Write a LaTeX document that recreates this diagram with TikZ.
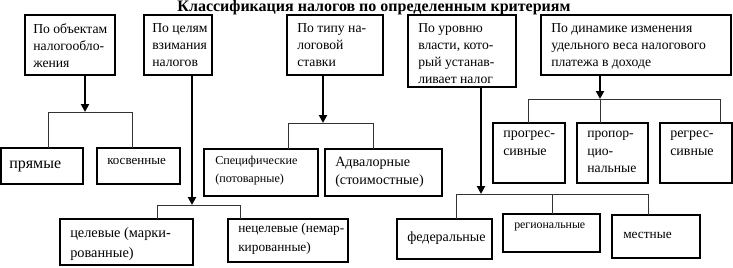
\documentclass[tikz,border=0pt]{standalone}
\usepackage{fontspec}
\setmainfont{Liberation Serif}
\usetikzlibrary{arrows.meta}
\newcommand\fsz[2]{\fontsize{#1}{#2}\selectfont}
\newcommand\mkbox[5]{\node[boxst, minimum width={(#4-#2)*0.75pt}, minimum height={(#5-#3)*0.75pt}] (#1) at (#2,#3) {};}
\begin{document}
\begin{tikzpicture}[x=0.75pt,y=-0.75pt,
  boxst/.style={draw, line width=0.85pt, inner sep=0pt, outer sep=0pt, anchor=north west},
  txt/.style={anchor=north west, inner sep=0pt, align=left, font=\fsz{10.25}{12.9}},
  parr/.style={line width=1.5pt, -{Triangle[length=6pt,width=6pt]}},
  bus/.style={line width=0.6pt, draw=black!80}]
\useasboundingbox (0,0) rectangle (733,268);
\node[font=\bfseries\fsz{12}{13}] (title) at (374,8) {Классификация налогов по определенным критериям};
% top boxes
\mkbox{b1}{25}{15}{115}{75}
\mkbox{b2}{144}{15}{212}{75}
\mkbox{b3}{287}{15}{383}{75}
\mkbox{b4}{408}{15}{516}{87}
\mkbox{b5}{541}{15}{731}{75}
\node[txt] (t1) at (33,23) {По объектам\\налогообло-\\жения};
\node[txt] (t2) at (152,23) {По целям\\взимания\\налогов};
\node[txt] (t3) at (297,23) {По типу на-\\логовой\\ставки};
\node[txt] (t4) at (418,23) {По уровню\\власти, кото-\\рый устанав-\\ливает налог};
\node[txt] (t5) at (551,23) {По динамике изменения\\удельного веса налогового\\платежа в доходе};
% children boxes
\mkbox{c11}{1}{148}{83}{184}
\mkbox{c12}{97}{148}{180}{184}
\mkbox{c31}{204}{149}{318}{196}
\mkbox{c32}{325}{149}{442}{196}
\mkbox{c21}{60}{219}{193}{265}
\mkbox{c22}{228}{219}{348}{262}
\mkbox{c51}{493}{123}{565}{183}
\mkbox{c52}{577}{123}{648}{183}
\mkbox{c53}{660}{123}{732}{183}
\mkbox{c41}{397}{219}{492}{259}
\mkbox{c42}{503}{214}{600}{252}
\mkbox{c43}{612}{215}{700}{258}
\node[txt, anchor=west, font=\fsz{12}{14}] (u11) at (9,166) {прямые};
\node[txt, anchor=west, font=\fsz{9.75}{12}] (u12) at (107,161) {косвенные};
\node[txt, font=\fsz{9.1}{13.2}] (u31) at (215,156) {Специфические\\(потоварные)};
\node[txt, font=\fsz{10.6}{13.5}] (u32) at (335,157) {Адвалорные\\(стоимостные)};
\node[txt, font=\fsz{10.75}{15}] (u21) at (70,227) {целевые (марки-\\рованные)};
\node[txt, font=\fsz{10}{14}] (u22) at (238,223) {нецелевые (немар-\\кированные)};
\node[txt, font=\fsz{10.5}{13}] (u51) at (503,131) {прогрес-\\сивные};
\node[txt, font=\fsz{10.25}{13}] (u52) at (587,131) {пропор-\\цио-\\нальные};
\node[txt, font=\fsz{10.5}{13}] (u53) at (670,131) {регрес-\\сивные};
\node[txt, anchor=west, font=\fsz{10.5}{12}] (u41) at (407,238) {федеральные};
\node[txt, anchor=west, font=\fsz{8.9}{11}] (u42) at (514,227) {региональные};
\node[txt, anchor=west, font=\fsz{10}{12}] (u43) at (623,235) {местные};
% junction coordinates
\coordinate (j1) at (85,112);  \coordinate (j1a) at (48,112);  \coordinate (j1b) at (132,112);
\coordinate (j2) at (192,205); \coordinate (j2a) at (157,205); \coordinate (j2b) at (240,205);
\coordinate (j3) at (323,123); \coordinate (j3a) at (288,123); \coordinate (j3b) at (373,123);
\coordinate (j4) at (481,194); \coordinate (j4a) at (456,194); \coordinate (j4b) at (552,194); \coordinate (j4c) at (648,194);
\coordinate (j5) at (600,99);  \coordinate (j5a) at (528,99);  \coordinate (j5b) at (720,99);
% buses
\draw[bus] (j1a |- c11.north) -- (j1a) -- (j1b) -- (j1b |- c12.north);
\draw[bus] (j2a |- c21.north) -- (j2a) -- (j2b) -- (j2b |- c22.north);
\draw[bus] (j3a |- c31.north) -- (j3a) -- (j3b) -- (j3b |- c32.north);
\draw[bus] (j4a |- c41.north) -- (j4a) -- (j4c) -- (j4c |- c43.north);
\draw[bus] (j4b) -- (j4b |- c42.north);
\draw[bus] (j5a |- c51.north) -- (j5a) -- (j5b) -- (j5b |- c53.north);
\draw[bus] (j5) -- (j5 |- c52.north);
% parent arrows
\draw[parr] (b1.south -| j1) -- (j1);
\draw[parr] (b2.south -| j2) -- (j2);
\draw[parr] (b3.south -| j3) -- (j3);
\draw[parr] (b4.south -| j4) -- (j4);
\draw[parr] (b5.south -| j5) -- (j5);
\end{tikzpicture}
\end{document}
